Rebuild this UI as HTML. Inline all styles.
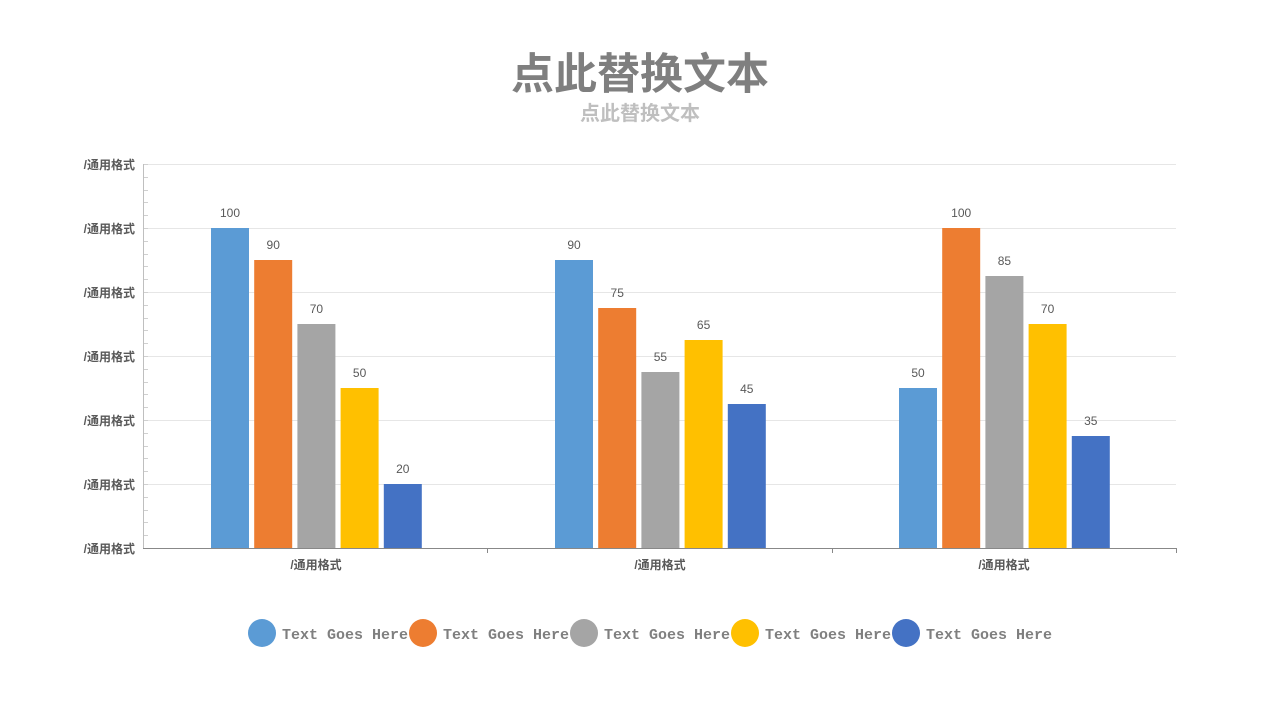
<!DOCTYPE html>
<html><head><meta charset="utf-8"><style>
html,body{margin:0;padding:0;background:#fff;width:1280px;height:720px;overflow:hidden}
text{font-family:"Liberation Sans","Noto Sans CJK SC",sans-serif}
</style></head><body>
<svg width="1280" height="720" xmlns="http://www.w3.org/2000/svg">
<text x="640" y="89" text-anchor="middle" font-size="43" font-weight="bold" fill="#7f7f7f">点此替换文本</text>
<text x="640" y="120" text-anchor="middle" font-size="20" font-weight="bold" fill="#bfbfbf">点此替换文本</text>
<g stroke="#e6e6e6" stroke-width="1">
<line x1="143" y1="164.5" x2="1176" y2="164.5"/><line x1="143" y1="228.5" x2="1176" y2="228.5"/>
<line x1="143" y1="292.5" x2="1176" y2="292.5"/><line x1="143" y1="356.5" x2="1176" y2="356.5"/>
<line x1="143" y1="420.5" x2="1176" y2="420.5"/><line x1="143" y1="484.5" x2="1176" y2="484.5"/>
</g>
<g id="mt" stroke="#d0d0d0"></g>
<line x1="143.5" y1="164" x2="143.5" y2="548" stroke="#bfbfbf"/>
<line x1="143" y1="548.5" x2="1176" y2="548.5" stroke="#888"/>
<g stroke="#888"><line x1="487.5" y1="548" x2="487.5" y2="553"/><line x1="832.5" y1="548" x2="832.5" y2="553"/><line x1="1176.5" y1="548" x2="1176.5" y2="553"/></g>
<g font-size="12" font-weight="bold" fill="#595959" text-anchor="end">
<text x="135" y="169">/通用格式</text><text x="135" y="233">/通用格式</text><text x="135" y="297">/通用格式</text>
<text x="135" y="361">/通用格式</text><text x="135" y="425">/通用格式</text><text x="135" y="489">/通用格式</text><text x="135" y="553">/通用格式</text>
</g>
<g font-size="12" font-weight="bold" fill="#595959" text-anchor="middle">
<text x="316" y="569">/通用格式</text><text x="660" y="569">/通用格式</text><text x="1004" y="569">/通用格式</text>
</g>
<g id="bars"></g>
<g font-size="15" fill="#7f7f7f" font-weight="bold">
<circle cx="262" cy="633" r="14" fill="#5B9BD5"/><text x="282" y="639" style="font-family:'Liberation Mono',monospace">Text Goes Here</text>
<circle cx="423" cy="633" r="14" fill="#ED7D31"/><text x="443" y="639" style="font-family:'Liberation Mono',monospace">Text Goes Here</text>
<circle cx="584" cy="633" r="14" fill="#A5A5A5"/><text x="604" y="639" style="font-family:'Liberation Mono',monospace">Text Goes Here</text>
<circle cx="745" cy="633" r="14" fill="#FFC000"/><text x="765" y="639" style="font-family:'Liberation Mono',monospace">Text Goes Here</text>
<circle cx="906" cy="633" r="14" fill="#4472C4"/><text x="926" y="639" style="font-family:'Liberation Mono',monospace">Text Goes Here</text>
</g>
</svg>
<script>
var ns="http://www.w3.org/2000/svg";
var mt=document.getElementById("mt");
for(var y=164;y<=548;y+=12.8){var l=document.createElementNS(ns,"line");l.setAttribute("x1",143);l.setAttribute("x2",148);l.setAttribute("y1",Math.round(y)+.5);l.setAttribute("y2",Math.round(y)+.5);mt.appendChild(l);}
var cols=["#5B9BD5","#ED7D31","#A5A5A5","#FFC000","#4472C4"];
var data=[[100,90,70,50,20],[90,75,55,65,45],[50,100,85,70,35]];
var starts=[211,555,899];var g=document.getElementById("bars");
data.forEach(function(d,i){d.forEach(function(v,j){var x=starts[i]+j*43.2,h=v*3.2,y=548-h;
var r=document.createElementNS(ns,"rect");r.setAttribute("x",x);r.setAttribute("y",y);r.setAttribute("width",38);r.setAttribute("height",h);r.setAttribute("fill",cols[j]);g.appendChild(r);
var t=document.createElementNS(ns,"text");t.setAttribute("x",x+19);t.setAttribute("y",y-11);t.setAttribute("text-anchor","middle");t.setAttribute("font-size","12");t.setAttribute("fill","#595959");t.textContent=v;g.appendChild(t);});});
</script>
</body></html>
